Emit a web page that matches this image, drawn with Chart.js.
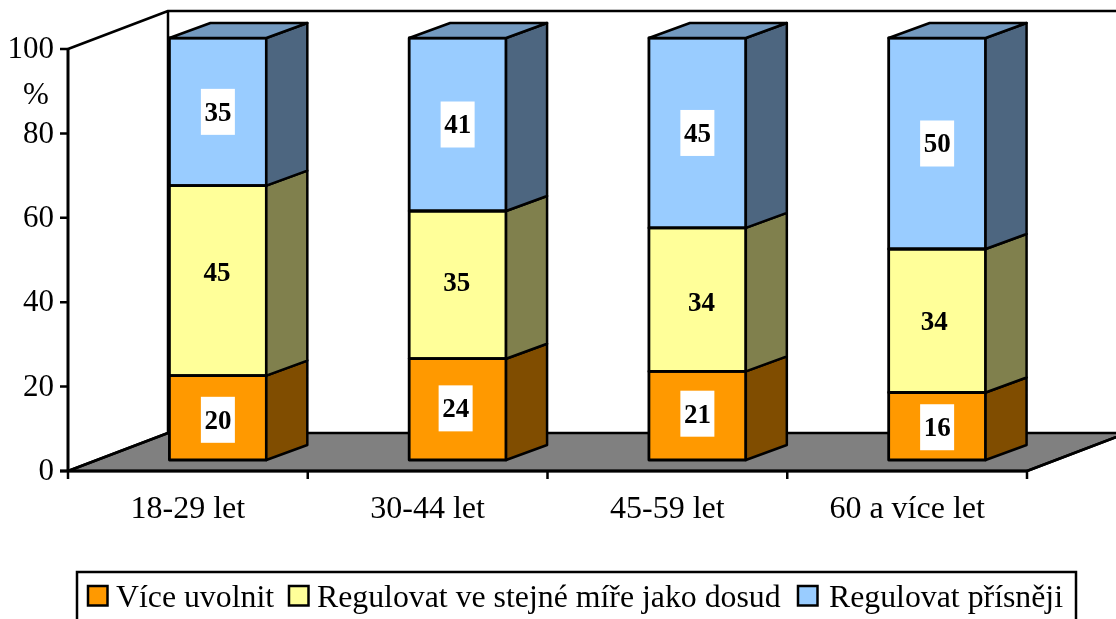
<!DOCTYPE html>
<html lang="cs">
<head>
<meta charset="UTF-8">
<title>Regulace</title>
<script src="https://cdn.jsdelivr.net/npm/chart.js"></script>
<style>
  html, body { margin: 0; padding: 0; background: #fff; }
  #wrap { width: 1116px; height: 619px; }
</style>
</head>
<body>
<div id="wrap"><canvas id="myChart" width="1116" height="619"></canvas></div>
<script>
const categories = ['18-29 let', '30-44 let', '45-59 let', '60 a více let'];
const uvolnit = [20, 24, 21, 16];
const stejne = [45, 35, 34, 34];
const prisneji = [35, 41, 45, 50];
const seriesNames = ['Více uvolnit', 'Regulovat ve stejné míře jako dosud', 'Regulovat přísněji'];
const frontColors = ['#ff9900', '#ffff99', '#99ccff'];
const sideColors = ['#804d00', '#80804d', '#4d6680'];
const topColors = ['#bf7300', '#bfbf73', '#7399bf'];
const yTicks = [0, 20, 40, 60, 80, 100];
const yAxisUnit = '%';

const serif = '"Liberation Serif", "Times New Roman", serif';

// depth of the floor and walls, and where the bars stand on the floor
const depthX = 100, depthY = -38;
const barDX = 30, barDY = -11;
const barDepthX = 41, barDepthY = -15;

// the labels were moved by hand in the original, per series and category
const labelNudgeX = [[0, -2, 0, 0], [-1, -1, 4, -3], [0, 0, 0, 0]];
const labelNudgeY = [[2, -1, -2, 1], [-9, -3, 2, 0], [0, 0, 0, 0]];
const labelBoxed = [true, false, true];

function poly(ctx, pts, fill, stroke, lw) {
  ctx.beginPath();
  pts.forEach((p, i) => i ? ctx.lineTo(p[0], p[1]) : ctx.moveTo(p[0], p[1]));
  ctx.closePath();
  if (fill) { ctx.fillStyle = fill; ctx.fill(); }
  if (stroke) { ctx.strokeStyle = stroke; ctx.lineWidth = lw; ctx.lineJoin = 'round'; ctx.stroke(); }
}

// walls and floor behind the bars
const backdrop = {
  id: 'backdrop',
  beforeDatasetsDraw(chart) {
    const { ctx, chartArea: a } = chart;
    ctx.save();
    poly(ctx, [[a.left, a.bottom], [a.left + depthX, a.bottom + depthY],
      [a.right + depthX, a.bottom + depthY], [a.right, a.bottom]], '#808080', '#000', 2.5);
    // left wall outline
    ctx.strokeStyle = '#000';
    ctx.lineWidth = 2.5;
    ctx.beginPath();
    ctx.moveTo(a.left, a.top);
    ctx.lineTo(a.left + depthX, a.top + depthY);
    ctx.lineTo(a.right + depthX, a.top + depthY);
    ctx.moveTo(a.left + depthX, a.top + depthY);
    ctx.lineTo(a.left + depthX, a.bottom + depthY);
    ctx.stroke();
    ctx.restore();
    // bars stand further back on the floor
    ctx.save();
    ctx.translate(barDX, barDY);
  },
  afterDatasetsDraw(chart) {
    const ctx = chart.ctx;
    // outline, side and top faces, still in the shifted frame
    chart.data.datasets.forEach((ds, i) => {
      chart.getDatasetMeta(i).data.forEach(bar => {
        const l = bar.x - bar.width / 2, r = bar.x + bar.width / 2;
        poly(ctx, [[l, bar.base], [r, bar.base], [r, bar.y], [l, bar.y]], null, '#000', 2.8);
        poly(ctx, [[r, bar.base], [r + barDepthX, bar.base + barDepthY],
          [r + barDepthX, bar.y + barDepthY], [r, bar.y]], sideColors[i], '#000', 2.5);
        if (i === chart.data.datasets.length - 1) {
          poly(ctx, [[l, bar.y], [l + barDepthX, bar.y + barDepthY],
            [r + barDepthX, bar.y + barDepthY], [r, bar.y]], topColors[i], '#000', 2.5);
        }
      });
    });
    // value labels, on white boxes except on the yellow series
    ctx.font = 'bold 27px ' + serif;
    ctx.textAlign = 'center';
    ctx.textBaseline = 'middle';
    chart.data.datasets.forEach((ds, i) => {
      chart.getDatasetMeta(i).data.forEach((bar, j) => {
        const cx = bar.x + labelNudgeX[i][j];
        const cy = (bar.y + bar.base) / 2 + labelNudgeY[i][j];
        if (labelBoxed[i]) {
          ctx.fillStyle = '#fff';
          ctx.fillRect(cx - 17, cy - 23, 34, 46);
        }
        ctx.fillStyle = '#000';
        ctx.fillText(String(ds.data[j]), cx, cy + 2);
      });
    });
    ctx.restore();
  }
};

// axis lines, tick marks, the unit and the framed legend
const furniture = {
  id: 'furniture',
  afterDraw(chart) {
    const { ctx, chartArea: a, scales } = chart;
    ctx.save();
    ctx.strokeStyle = '#000';
    ctx.lineWidth = 3;
    ctx.beginPath();
    ctx.moveTo(a.left, a.top);
    ctx.lineTo(a.left, a.bottom);
    ctx.moveTo(a.left - 8, a.bottom);
    ctx.lineTo(a.right, a.bottom);
    ctx.stroke();
    ctx.lineWidth = 2.5;
    ctx.beginPath();
    ctx.moveTo(a.right, a.bottom);
    ctx.lineTo(a.right + depthX, a.bottom + depthY);
    ctx.moveTo(a.left, a.bottom);
    ctx.lineTo(a.left + depthX, a.bottom + depthY);
    yTicks.forEach(v => {
      const y = scales.y.getPixelForValue(v);
      ctx.moveTo(a.left - 8, y);
      ctx.lineTo(a.left, y);
    });
    const step = (a.right - a.left) / categories.length;
    for (let i = 0; i <= categories.length; i++) {
      ctx.moveTo(a.left + i * step, a.bottom);
      ctx.lineTo(a.left + i * step, a.bottom + 8);
    }
    ctx.stroke();

    ctx.fillStyle = '#000';
    ctx.font = '31px ' + serif;
    ctx.textAlign = 'center';
    ctx.textBaseline = 'alphabetic';
    ctx.fillText(yAxisUnit, 36, 104);

    // legend
    ctx.lineWidth = 2.5;
    ctx.strokeRect(77, 572, 999, 60);
    const boxX = [88, 289, 798];
    const textX = [116, 317, 829];
    ctx.font = '31.8px ' + serif;
    ctx.textAlign = 'left';
    seriesNames.forEach((name, i) => {
      ctx.fillStyle = frontColors[i];
      ctx.fillRect(boxX[i], 586, 19.5, 19.5);
      ctx.strokeRect(boxX[i], 586, 19.5, 19.5);
      ctx.fillStyle = '#000';
      ctx.fillText(name, textX[i], 607);
    });
    ctx.restore();
  }
};

new Chart(document.getElementById('myChart'), {
  type: 'bar',
  data: {
    labels: categories,
    datasets: [uvolnit, stejne, prisneji].map((values, i) => ({
      label: seriesNames[i],
      data: values,
      backgroundColor: frontColors[i],
      borderWidth: 0,
      barPercentage: 1,
      categoryPercentage: 97 / 240
    }))
  },
  options: {
    responsive: false,
    animation: false,
    layout: { padding: { left: 0, right: 89, top: 49, bottom: 0 } },
    plugins: { legend: { display: false }, tooltip: { enabled: false } },
    scales: {
      x: {
        stacked: true,
        position: 'bottom',
        border: { display: false },
        grid: { display: false, drawTicks: false },
        afterFit(s) { s.height = 148; },
        ticks: { color: '#000', font: { family: serif, size: 32 }, padding: 19, maxRotation: 0 }
      },
      y: {
        stacked: true,
        min: 0,
        max: 100,
        border: { display: false },
        grid: { display: false, drawTicks: false },
        afterFit(s) { s.width = 68; },
        afterBuildTicks(s) { s.ticks = yTicks.map(v => ({ value: v })); },
        ticks: { color: '#000', font: { family: serif, size: 31 }, padding: 14, labelOffset: 1 }
      }
    }
  },
  plugins: [backdrop, furniture]
});
</script>
</body>
</html>
